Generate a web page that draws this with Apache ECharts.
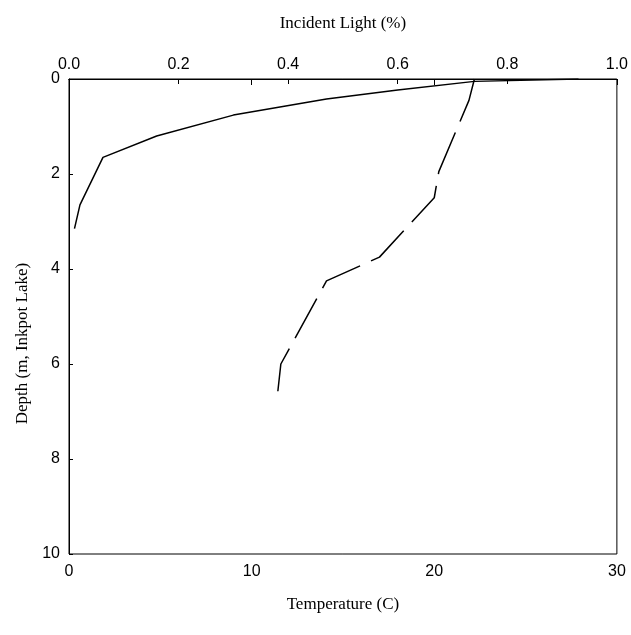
<!DOCTYPE html>
<html>
<head>
<meta charset="utf-8">
<script src="https://cdn.jsdelivr.net/npm/echarts@6/dist/echarts.min.js"></script>
<style>
  html, body { margin: 0; padding: 0; background: #fff; }
  #chart { width: 631px; height: 635px; }
</style>
</head>
<body>
<div id="chart"></div>
<script>
var chartDom = document.getElementById('chart');
var myChart = echarts.init(chartDom);

// incident light (fraction) vs depth (m)
var lightValues = [0.93, 0.74, 0.60, 0.47, 0.30, 0.16, 0.062, 0.02, 0.01];
var lightDepths = [0, 0.05, 0.23, 0.42, 0.76, 1.2, 1.65, 2.65, 3.15];

// temperature (C) vs depth (m)
var tempValues = [22.2, 21.9, 20.25, 20.0, 17.0, 14.1, 11.6, 11.4];
var tempDepths = [0, 0.45, 1.95, 2.5, 3.75, 4.25, 6.0, 6.7];

function pairs(xs, ys) {
  return xs.map(function (x, i) { return [x, ys[i]]; });
}

var serif = 'Liberation Serif';
var sans = 'Liberation Sans';

var option = {
  backgroundColor: '#fff',
  animation: false,
  grid: {
    left: 69, right: 12, top: 79, bottom: 81,
    show: true, borderColor: '#000', borderWidth: 1
  },
  xAxis: [
    {
      type: 'value',
      position: 'bottom',
      min: 0, max: 30, interval: 10,
      name: 'Temperature (C)',
      nameLocation: 'middle',
      nameGap: 42,
      nameTextStyle: { fontFamily: serif, fontSize: 17, color: '#000' },
      axisLine: { show: true, lineStyle: { color: '#000', width: 1 } },
      axisTick: { show: true, inside: false, length: 6, lineStyle: { color: '#000' } },
      axisLabel: { fontFamily: sans, fontSize: 16, color: '#000', margin: 10 },
      splitLine: { show: false }
    },
    {
      type: 'value',
      position: 'top',
      min: 0, max: 1, interval: 0.2,
      name: 'Incident Light (%)',
      nameLocation: 'middle',
      nameGap: 47,
      nameTextStyle: { fontFamily: serif, fontSize: 17, color: '#000' },
      axisLine: { show: true, lineStyle: { color: '#000', width: 1 } },
      axisTick: { show: true, inside: true, length: 5, lineStyle: { color: '#000' } },
      axisLabel: {
        fontFamily: sans, fontSize: 16, color: '#000', margin: 6,
        formatter: function (v) { return v.toFixed(1); }
      },
      splitLine: { show: false }
    }
  ],
  yAxis: {
    type: 'value',
    inverse: true,
    min: 0, max: 10, interval: 2,
    name: 'Depth (m, Inkpot Lake)',
    nameLocation: 'middle',
    nameGap: 36,
    nameTextStyle: { fontFamily: serif, fontSize: 17, color: '#000', padding: [0, 54, 0, 0] },
    axisLine: { show: true, lineStyle: { color: '#000', width: 1 } },
    axisTick: { show: true, inside: true, length: 4, lineStyle: { color: '#000' } },
    axisLabel: { fontFamily: sans, fontSize: 16, color: '#000', margin: 9 },
    splitLine: { show: false }
  },
  series: [
    {
      name: 'Incident Light',
      type: 'line',
      xAxisIndex: 1,
      data: pairs(lightValues, lightDepths),
      symbol: 'none',
      lineStyle: { color: '#000', width: 1.5 }
    },
    {
      name: 'Temperature',
      type: 'line',
      xAxisIndex: 0,
      data: pairs(tempValues, tempDepths),
      symbol: 'none',
      lineStyle: { color: '#000', width: 1.5, type: [45, 12] }
    }
  ]
};

option && myChart.setOption(option);
</script>
</body>
</html>
